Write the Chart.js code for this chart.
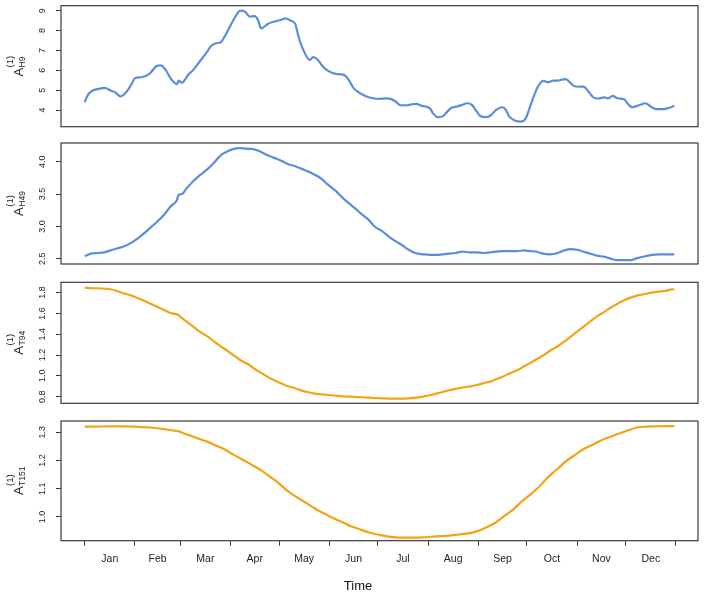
<!DOCTYPE html>
<html>
<head>
<meta charset="utf-8">
<script src="https://cdn.jsdelivr.net/npm/chart.js@4.4.1/dist/chart.umd.min.js"></script>
<style>
    body { margin: 0; background: #fff; }
    #wrap { position: relative; width: 704px; height: 600px; background: #fff; }
    canvas { position: absolute; left: 0; }
</style>
</head>
<body>
<div id="wrap">
    <canvas id="p1" width="704" height="136" style="top:0px"></canvas>
    <canvas id="p2" width="704" height="138" style="top:136px"></canvas>
    <canvas id="p3" width="704" height="138" style="top:274px"></canvas>
    <canvas id="p4" width="704" height="188" style="top:412px"></canvas>
</div>
<script>
// data (day of year -> value)

const monthNames = ['Jan', 'Feb', 'Mar', 'Apr', 'May', 'Jun', 'Jul', 'Aug', 'Sep', 'Oct', 'Nov', 'Dec'];
const monthStarts = [1, 32, 60, 91, 121, 152, 182, 213, 244, 274, 305, 335, 366];

// A(1) H9
const daysH9 = [1,3,6,9,12,14,17,20,23,27,30,32,36,41,45,48,51,54,58,59,61,65,68,72,76,79,82,85,88,92,95,97,100,103,106,108,110,114,118,122,125,128,131,133,136,140,142,145,148,151,156,161,164,167,171,175,179,183,187,190,193,196,200,203,206,209,214,216,219,222,225,227,231,234,237,240,243,245,249,252,255,259,261,263,267,270,273,276,279,281,284,287,290,293,295,298,301,303,306,309,312,315,318,322,324,327,330,334,336,339,342,345,347,351,354,358,361,365];
const valsH9 = [4.39,4.76,4.98,5.05,5.10,5.10,4.98,4.88,4.68,4.93,5.31,5.60,5.65,5.82,6.19,6.25,6.02,5.60,5.30,5.48,5.38,5.77,6.02,6.44,6.86,7.22,7.36,7.41,7.78,8.40,8.83,9.00,8.95,8.70,8.73,8.53,8.11,8.33,8.45,8.53,8.61,8.50,8.33,7.69,7.02,6.52,6.66,6.52,6.19,5.98,5.82,5.77,5.52,5.10,4.85,4.68,4.59,4.56,4.59,4.56,4.43,4.24,4.24,4.29,4.31,4.21,4.09,3.84,3.64,3.68,3.93,4.09,4.18,4.26,4.34,4.26,3.93,3.71,3.64,3.76,4.01,4.14,4.01,3.68,3.46,3.42,3.54,4.18,4.85,5.21,5.47,5.40,5.48,5.48,5.52,5.55,5.35,5.21,5.18,5.18,4.93,4.64,4.58,4.64,4.58,4.71,4.59,4.54,4.34,4.14,4.21,4.29,4.34,4.14,4.04,4.04,4.09,4.21];
const ticksH9 = [4, 5, 6, 7, 8, 9];

// A(1) H49
const daysH49 = [1,5,9,13,17,21,25,30,34,38,42,46,50,54,58,59,61,64,68,72,77,81,85,89,93,97,102,106,110,114,118,122,126,131,135,139,143,147,151,156,160,164,168,172,176,180,185,189,193,197,201,205,210,214,218,222,226,230,234,239,243,247,251,255,259,263,268,272,276,280,284,288,293,297,301,305,309,313,317,322,326,330,334,338,342,347,351,355,359,365];
const valsH49 = [2.54,2.58,2.59,2.60,2.63,2.66,2.69,2.75,2.82,2.90,2.99,3.08,3.18,3.31,3.41,3.49,3.50,3.59,3.70,3.79,3.89,3.99,4.10,4.16,4.20,4.21,4.20,4.19,4.15,4.10,4.06,4.02,3.97,3.93,3.89,3.85,3.80,3.74,3.65,3.55,3.45,3.36,3.28,3.19,3.11,3.00,2.92,2.84,2.77,2.71,2.64,2.59,2.57,2.56,2.56,2.57,2.58,2.59,2.61,2.60,2.60,2.59,2.60,2.61,2.62,2.62,2.62,2.63,2.62,2.61,2.58,2.57,2.59,2.63,2.65,2.64,2.61,2.58,2.55,2.53,2.50,2.48,2.48,2.48,2.51,2.54,2.56,2.57,2.57,2.57];
const ticksH49 = [2.5, 3.0, 3.5, 4.0];

// A(1) T94
const daysT94 = [1,5,9,13,17,21,25,30,34,38,42,46,50,54,59,60,64,68,72,77,81,85,89,93,97,102,106,110,114,118,122,126,131,135,139,143,147,151,156,160,164,168,172,176,180,185,189,193,197,201,205,210,214,218,222,226,230,234,239,243,247,251,255,259,263,268,272,276,280,284,288,293,297,301,305,309,313,317,322,326,330,334,338,342,347,351,355,359,362,365];
const valsT94 = [1.848,1.842,1.842,1.838,1.832,1.816,1.794,1.771,1.746,1.720,1.691,1.662,1.633,1.604,1.585,1.569,1.521,1.473,1.425,1.377,1.329,1.284,1.242,1.197,1.152,1.111,1.066,1.028,0.990,0.957,0.928,0.903,0.880,0.858,0.842,0.829,0.822,0.816,0.810,0.803,0.800,0.797,0.794,0.790,0.787,0.784,0.781,0.781,0.781,0.784,0.790,0.800,0.813,0.829,0.845,0.861,0.874,0.887,0.899,0.912,0.928,0.944,0.967,0.992,1.021,1.053,1.089,1.124,1.159,1.197,1.239,1.284,1.329,1.377,1.425,1.473,1.521,1.569,1.617,1.659,1.694,1.726,1.752,1.771,1.787,1.800,1.810,1.816,1.826,1.835];
const ticksT94 = [0.8, 1.0, 1.2, 1.4, 1.6, 1.8];

// A(1) T151
const daysT151 = [1,7,16,24,32,41,49,56,59,61,66,71,77,82,88,93,99,104,110,115,121,126,132,138,143,149,154,160,165,171,176,182,187,193,198,204,210,215,221,226,232,237,243,248,254,259,265,270,276,282,287,293,298,304,309,315,320,326,331,337,342,348,353,359,365];
const valsT151 = [1.320,1.320,1.321,1.321,1.320,1.317,1.312,1.306,1.304,1.299,1.289,1.278,1.266,1.253,1.237,1.220,1.202,1.185,1.165,1.144,1.119,1.093,1.070,1.049,1.030,1.012,0.997,0.982,0.968,0.956,0.946,0.938,0.932,0.928,0.927,0.927,0.928,0.930,0.932,0.934,0.938,0.941,0.949,0.961,0.978,0.999,1.024,1.051,1.079,1.110,1.141,1.171,1.197,1.221,1.241,1.257,1.272,1.285,1.296,1.308,1.317,1.320,1.321,1.322,1.322];
const ticksT151 = [1.0, 1.1, 1.2, 1.3];

const FONT = '"Liberation Sans", Arial, Helvetica, sans-serif';
const BLUE = '#5B8DDF';
const ORANGE = '#F5A316';
const X_MIN = -13.6, X_MAX = 379.6;

const monthMids = monthNames.map((m, i) => (monthStarts[i] + monthStarts[i + 1]) / 2);

// draws R-style box, rotated y tick labels, the A^(1)_sub axis title and (bottom panel) month names
function framePlugin(p) {
    return {
        id: 'frame',
        afterDraw(chart) {
            const ctx = chart.ctx;
            const a = chart.chartArea;
            const y = chart.scales.y;
            const x = chart.scales.x;
            ctx.save();
            ctx.strokeStyle = '#3a3a3a';
            ctx.lineWidth = 1.2;
            ctx.strokeRect(a.left, a.top, a.right - a.left, a.bottom - a.top);

            ctx.fillStyle = '#222';
            ctx.font = '9px ' + FONT;
            ctx.textAlign = 'center';
            ctx.textBaseline = 'alphabetic';
            p.ticks.forEach(v => {
                const py = y.getPixelForValue(v);
                ctx.save();
                ctx.translate(44.8, py);
                ctx.rotate(-Math.PI / 2);
                ctx.fillText(v.toFixed(p.digits), 0, 0);
                ctx.restore();
            });

            // axis title
            const cy = (a.top + a.bottom) / 2;
            ctx.save();
            ctx.translate(22.7, cy);
            ctx.rotate(-Math.PI / 2);
            ctx.textAlign = 'left';
            ctx.font = '13px ' + FONT;
            const wA = ctx.measureText('A').width;
            ctx.font = '9.5px ' + FONT;
            const wSup = ctx.measureText('(1)').width;
            ctx.font = '8.5px ' + FONT;
            const wSub = ctx.measureText(p.sub).width;
            const x0 = -(wA + 0.5 + Math.max(wSup, wSub)) / 2;
            ctx.font = '13px ' + FONT;
            ctx.fillText('A', x0, 0);
            ctx.font = '9.5px ' + FONT;
            ctx.fillText('(1)', x0 + wA + 0.5, -10);
            ctx.font = '8.5px ' + FONT;
            ctx.fillText(p.sub, x0 + wA + 0.5, 2.5);
            ctx.restore();

            if (p.bottom) {
                ctx.fillStyle = '#222';
                ctx.font = '10.5px ' + FONT;
                ctx.textAlign = 'center';
                ctx.textBaseline = 'middle';
                monthMids.forEach((d, i) => {
                    ctx.fillText(monthNames[i], x.getPixelForValue(d), a.bottom + 18);
                });
                ctx.font = '13px ' + FONT;
                ctx.textBaseline = 'alphabetic';
                ctx.fillStyle = '#111';
                ctx.fillText('Time', 358, a.bottom + 48.8);
            }
            ctx.restore();
        }
    };
}

function makePanel(id, days, vals, color, yMin, yMax, ticks, digits, sub, pad, bottom) {
    return new Chart(document.getElementById(id), {
        type: 'line',
        data: {
            datasets: [{
                data: days.map((d, i) => ({ x: d, y: vals[i] })),
                borderColor: color,
                borderWidth: 2.2,
                pointRadius: 0,
                cubicInterpolationMode: 'monotone',
                fill: false
            }]
        },
        options: {
            responsive: false,
            animation: false,
            devicePixelRatio: 1,
            events: [],
            layout: { padding: pad },
            plugins: {
                legend: { display: false },
                tooltip: { enabled: false }
            },
            scales: {
                x: {
                    type: 'linear',
                    min: X_MIN,
                    max: X_MAX,
                    position: 'bottom',
                    display: bottom,
                    afterBuildTicks: s => { s.ticks = monthStarts.map(v => ({ value: v })); },
                    afterFit: s => { s.height = 0; },
                    ticks: { display: false },
                    grid: { drawOnChartArea: false, drawTicks: true, tickLength: 5, color: '#3a3a3a', lineWidth: 1 },
                    border: { display: false }
                },
                y: {
                    type: 'linear',
                    min: yMin,
                    max: yMax,
                    position: 'left',
                    afterBuildTicks: s => { s.ticks = ticks.map(v => ({ value: v })); },
                    afterFit: s => { s.width = 0; },
                    ticks: { display: false },
                    grid: { drawOnChartArea: false, drawTicks: true, tickLength: 5, color: '#3a3a3a', lineWidth: 1 },
                    border: { display: false }
                }
            }
        },
        plugins: [framePlugin({ ticks: ticks, digits: digits, sub: sub, bottom: bottom })]
    });
}

makePanel('p1', daysH9, valsH9, BLUE, 3.16, 9.25, ticksH9, 0, 'H9',
    { left: 61, right: 6, top: 5.7, bottom: 9.3 }, false);
makePanel('p2', daysH49, valsH49, BLUE, 2.42, 4.29, ticksH49, 1, 'H49',
    { left: 61, right: 6, top: 7, bottom: 10 }, false);
makePanel('p3', daysT94, valsT94, ORANGE, 0.736, 1.899, ticksT94, 1, 'T94',
    { left: 61, right: 6, top: 8.3, bottom: 8.7 }, false);
makePanel('p4', daysT151, valsT151, ORANGE, 0.916, 1.340, ticksT151, 1, 'T151',
    { left: 61, right: 6, top: 9, bottom: 59.3 }, true);
</script>
</body>
</html>
